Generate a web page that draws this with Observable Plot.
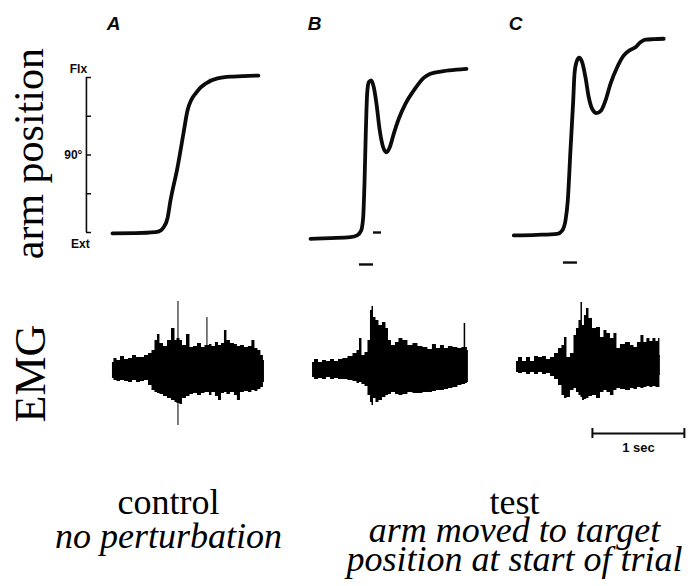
<!DOCTYPE html>
<html><head><meta charset="utf-8">
<script src="https://cdn.jsdelivr.net/npm/d3@7"></script>
<script src="https://cdn.jsdelivr.net/npm/@observablehq/plot@0.6"></script>
<style>
html,body{margin:0;padding:0;background:#fff;}
#wrap{position:relative;width:693px;height:586px;overflow:hidden;background:#fff;}
#pos,#emg,#caps{position:absolute;left:0;}
#pos{top:0;} #emg{top:270px;} #caps{top:460px;}
</style></head><body>
<div id="wrap"><div id="pos"></div><div id="emg"></div><div id="caps"></div></div>
<script>
// ---- data ----
const panels = ["A", "B", "C"];

// arm position traces: [time (s), angle (deg)]
const traceA = [[0.043,49.6],[0.293,49.7],[0.511,50.2],[0.565,51.0],[0.598,52.6],[0.641,57.2],[0.674,66.5],[0.750,83.5],[0.815,101.1],[0.859,113.0],[0.902,118.6],[0.946,121.7],[1.000,124.8],[1.054,126.8],[1.185,129.5],[1.359,130.5],[1.630,131.0]];
const traceB = [[0.011,46.7],[0.228,47.1],[0.446,47.6],[0.518,48.5],[0.562,51.0],[0.584,57.9],[0.598,75.3],[0.612,101.1],[0.627,121.7],[0.645,127.6],[0.671,128.5],[0.699,125.0],[0.728,116.6],[0.764,102.6],[0.801,94.0],[0.837,91.4],[0.873,94.0],[0.916,100.9],[0.971,108.7],[1.043,116.4],[1.134,123.3],[1.242,129.8],[1.315,131.9],[1.460,133.3],[1.605,134.1],[1.707,134.5]];
const traceC = [[0.036,48.5],[0.290,48.8],[0.508,49.3],[0.562,51.0],[0.598,56.2],[0.623,66.5],[0.652,92.3],[0.682,118.1],[0.696,131.9],[0.717,137.9],[0.747,140.2],[0.779,137.9],[0.815,130.2],[0.851,119.8],[0.888,113.8],[0.935,111.6],[0.986,113.0],[1.033,118.1],[1.087,126.7],[1.160,135.3],[1.232,141.4],[1.304,144.3],[1.359,145.6],[1.413,148.2],[1.467,149.5],[1.558,149.8],[1.666,150.0]];

// position axis
const posTicks = [50, 70, 90, 110, 130];
const posTickLabels = ["Ext", "", "90°", "", "Flx"];

// stimulus markers under traces: [panel, start (s), end (s), angle level]
const markers = [["B",0.543,0.696,33.5],["C",0.576,0.728,34.5],["B",0.696,0.783,50]];

// EMG envelopes: [time (s), upper, lower]
const emgA = [[0.043,0.8,-0.8],[0.076,1.2,-1.0],[0.109,1.0,-1.1],[0.152,1.4,-1.0],[0.196,1.1,-1.1],[0.239,1.2,-1.2],[0.283,1.5,-1.0],[0.326,1.3,-1.2],[0.370,1.3,-1.1],[0.413,1.5,-1.0],[0.457,1.7,-1.5],[0.489,2.0,-2.0],[0.522,3.0,-2.2],[0.543,3.6,-2.3],[0.576,2.7,-2.4],[0.620,2.4,-2.6],[0.663,3.0,-2.8],[0.707,4.2,-3.0],[0.739,3.0,-3.2],[0.750,3.2,-3.3],[0.761,6.9,-5.5],[0.772,3.2,-3.3],[0.783,3.0,-3.4],[0.826,2.5,-2.8],[0.870,3.6,-2.6],[0.902,2.3,-2.4],[0.946,2.4,-2.3],[0.989,2.7,-2.5],[1.033,2.3,-2.3],[1.065,2.5,-2.2],[1.076,5.3,-2.2],[1.087,2.5,-2.2],[1.109,2.6,-2.5],[1.141,2.4,-2.2],[1.185,2.8,-2.6],[1.207,2.5,-3.0],[1.250,2.7,-2.3],[1.272,4.0,-2.2],[1.304,3.0,-2.4],[1.348,2.7,-2.2],[1.391,2.6,-2.5],[1.413,2.4,-3.0],[1.457,2.5,-2.2],[1.500,2.3,-2.1],[1.543,2.4,-2.2],[1.576,3.0,-2.0],[1.609,2.2,-2.1],[1.641,2.0,-1.9],[1.674,1.5,-1.7],[1.696,1.0,-1.2]];
const emgB = [[0.033,0.8,-0.7],[0.076,1.1,-0.9],[0.120,0.8,-0.8],[0.163,1.0,-0.9],[0.207,0.9,-0.7],[0.250,1.1,-0.9],[0.293,0.9,-0.8],[0.337,1.1,-0.9],[0.391,1.2,-0.9],[0.446,1.4,-1.0],[0.500,1.7,-1.1],[0.533,2.0,-1.3],[0.554,3.2,-1.2],[0.587,1.5,-1.4],[0.620,1.8,-1.6],[0.652,3.0,-2.5],[0.674,6.0,-3.2],[0.685,6.4,-3.5],[0.707,5.3,-2.8],[0.739,5.0,-3.2],[0.772,4.5,-3.0],[0.815,4.8,-2.7],[0.848,4.2,-2.5],[0.870,3.0,-2.4],[0.913,2.5,-2.2],[0.957,2.8,-2.4],[0.989,3.2,-2.5],[1.043,3.0,-2.4],[1.098,2.5,-2.2],[1.152,2.7,-2.3],[1.207,2.4,-2.3],[1.261,2.3,-2.2],[1.315,2.1,-2.2],[1.359,2.6,-2.1],[1.402,2.2,-2.0],[1.446,2.5,-2.0],[1.489,2.2,-1.9],[1.533,2.4,-1.8],[1.587,2.3,-1.7],[1.641,2.2,-1.5],[1.674,2.3,-1.4],[1.690,4.7,-1.4],[1.707,2.3,-1.3],[1.728,2.0,-1.2]];
const emgC = [[0.065,0.9,-0.2],[0.109,1.3,-0.3],[0.152,0.9,-0.2],[0.196,1.3,-0.4],[0.239,0.9,-0.2],[0.283,1.4,-0.4],[0.326,1.3,-0.2],[0.370,1.4,-0.4],[0.413,1.1,-0.3],[0.457,1.3,-0.6],[0.500,1.7,-0.9],[0.543,2.2,-1.5],[0.576,2.5,-2.5],[0.598,3.3,-2.8],[0.630,1.3,-2.7],[0.674,1.7,-2.0],[0.707,3.5,-1.8],[0.728,4.2,-2.2],[0.761,5.0,-2.5],[0.772,6.8,-2.7],[0.793,4.5,-3.0],[0.815,5.5,-2.9],[0.837,6.2,-2.8],[0.870,5.2,-2.6],[0.913,4.2,-2.5],[0.957,4.3,-2.8],[1.000,3.3,-2.2],[1.033,4.0,-2.0],[1.065,3.7,-2.2],[1.109,3.2,-2.5],[1.141,3.7,-2.0],[1.174,2.2,-1.8],[1.217,2.6,-1.9],[1.283,2.8,-2.0],[1.326,2.5,-1.8],[1.359,2.3,-1.9],[1.402,2.8,-1.7],[1.435,3.5,-1.8],[1.467,2.8,-1.7],[1.500,3.2,-1.6],[1.533,2.9,-1.7],[1.565,3.2,-1.6],[1.598,2.9,-1.7],[1.620,3.2,-1.7],[1.630,1.5,-0.5]];

// time scale bar: [panel, start (s), length (s), level]
const scaleBar = ["C", 0.891, 1, -6.3];
const scaleBarLabel = "1 sec";

const yLabels = ["arm position", "EMG"];
const captionsLeft = [["control", false], ["no perturbation", true]];
const captionsRight = [["test", false], ["arm moved to target", true], ["position at start of trial", true]];

// ---- build rows ----
const posRows = [];
[traceA, traceB, traceC].forEach((tr, i) => tr.forEach(([t, deg]) => posRows.push({panel: panels[i], t, deg})));
const emgRows = [];
[emgA, emgB, emgC].forEach((tr, i) => tr.forEach(([t, hi, lo]) => emgRows.push({panel: panels[i], t, hi, lo})));
const markerRows = markers.map(([panel, t1, t2, deg]) => ({panel, t1, t2, deg}));
const barRow = {panel: scaleBar[0], t1: scaleBar[1], t2: scaleBar[1] + scaleBar[2], v: scaleBar[3]};

const serif = "Liberation Serif, Times New Roman, serif";
const sans = "Liberation Sans, Arial, Helvetica, sans-serif";
const ink = "#0b0b0b";
const axisT = -0.24; // position of the angle axis, seconds before panel A start

const common = {
  width: 693, marginLeft: 108, marginRight: 23,
  fx: {domain: panels, paddingInner: 41 / 201, paddingOuter: 0, round: false, axis: null, label: null},
  x: {domain: [0, 1.74], axis: null}
};

const posPlot = Plot.plot({
  ...common,
  height: 270, marginTop: 18.875, marginBottom: 18.625,
  y: {domain: [40, 160], axis: null},
  marks: [
    Plot.line(posRows, {fx: "panel", x: "t", y: "deg", curve: "monotone-x", stroke: ink, strokeWidth: 3.8, strokeLinecap: "round", strokeLinejoin: "round"}),
    Plot.ruleY(markerRows, {fx: "panel", x1: "t1", x2: "t2", y: "deg", stroke: ink, strokeWidth: 2.4}),
    Plot.ruleX([0], {fx: () => "A", x: () => axisT, y1: posTicks[0], y2: posTicks[posTicks.length - 1], stroke: ink, strokeWidth: 1.6}),
    Plot.ruleY(posTicks, {fx: () => "A", y: d => d, x1: axisT, x2: axisT + 0.055, stroke: ink, strokeWidth: 1.5}),
    Plot.text([posTicks[4]], {fx: () => "A", x: () => axisT, y: d => d, text: () => posTickLabels[4], dx: -8, dy: -8, fontSize: 12, fontWeight: 600, fontFamily: sans, fill: ink, textAnchor: "middle"}),
    Plot.text([posTicks[2]], {fx: () => "A", x: () => axisT, y: d => d, text: () => posTickLabels[2], dx: -4, fontSize: 12, fontWeight: 600, fontFamily: sans, fill: ink, textAnchor: "end"}),
    Plot.text([posTicks[0]], {fx: () => "A", x: () => axisT, y: d => d, text: () => posTickLabels[0], dx: -6, dy: 12, fontSize: 12, fontWeight: 600, fontFamily: sans, fill: ink, textAnchor: "middle"}),
    Plot.text(panels, {fx: d => d, text: d => d, frameAnchor: "top-left", dx: 5, dy: 5, textAnchor: "middle", lineAnchor: "middle", fontSize: 19, fontWeight: "bold", fontStyle: "italic", fontFamily: sans, fill: ink}),
    Plot.text([yLabels[0]], {fx: () => "A", text: d => d, frameAnchor: "left", dx: -66, dy: 18, rotate: -90, textAnchor: "middle", lineAnchor: "bottom", fontSize: 42, fontFamily: serif, fill: "#000"})
  ]
});
document.getElementById("pos").append(posPlot);

const emgPlot = Plot.plot({
  ...common,
  height: 190, marginTop: 20, marginBottom: 10,
  y: {domain: [-8, 8], axis: null},
  marks: [
    Plot.areaY(emgRows, {fx: "panel", x: "t", y1: "lo", y2: "hi", curve: "step", fill: "#000"}),
    Plot.ruleY([barRow], {fx: "panel", x1: "t1", x2: "t2", y: "v", stroke: ink, strokeWidth: 2}),
    Plot.ruleX([barRow], {fx: "panel", x: "t1", y1: d => d.v + 0.5, y2: d => d.v - 0.5, stroke: ink, strokeWidth: 2}),
    Plot.ruleX([barRow], {fx: "panel", x: "t2", y1: d => d.v + 0.5, y2: d => d.v - 0.5, stroke: ink, strokeWidth: 2}),
    Plot.text([barRow], {fx: "panel", x: d => (d.t1 + d.t2) / 2, y: "v", text: () => scaleBarLabel, dy: 14, fontSize: 13, fontWeight: "bold", fontFamily: sans, fill: ink}),
    Plot.text([yLabels[1]], {fx: () => "A", text: d => d, frameAnchor: "left", dx: -64, dy: 3, rotate: -90, textAnchor: "middle", lineAnchor: "bottom", fontSize: 44, fontFamily: serif, fill: "#000"})
  ]
});
document.getElementById("emg").append(emgPlot);

// captions (below the charts), baselines measured from the top of the caption area
const capMarks = [];
function addCaption(lines, center, baselines) {
  lines.forEach(([txt, italic], i) => {
    capMarks.push(Plot.text([txt], {
      text: d => d, frameAnchor: "top-left", dx: center, dy: baselines[i],
      textAnchor: "middle", lineAnchor: "bottom",
      fontSize: 36, fontFamily: serif, fontStyle: italic ? "italic" : "normal", fill: "#000"
    }));
  });
}
addCaption(captionsLeft, 168, [53, 87]);
addCaption(captionsRight, 514, [53, 81, 110]);
const capPlot = Plot.plot({width: 693, height: 126, margin: 0, marks: capMarks});
document.getElementById("caps").append(capPlot);
</script>
</body></html>
